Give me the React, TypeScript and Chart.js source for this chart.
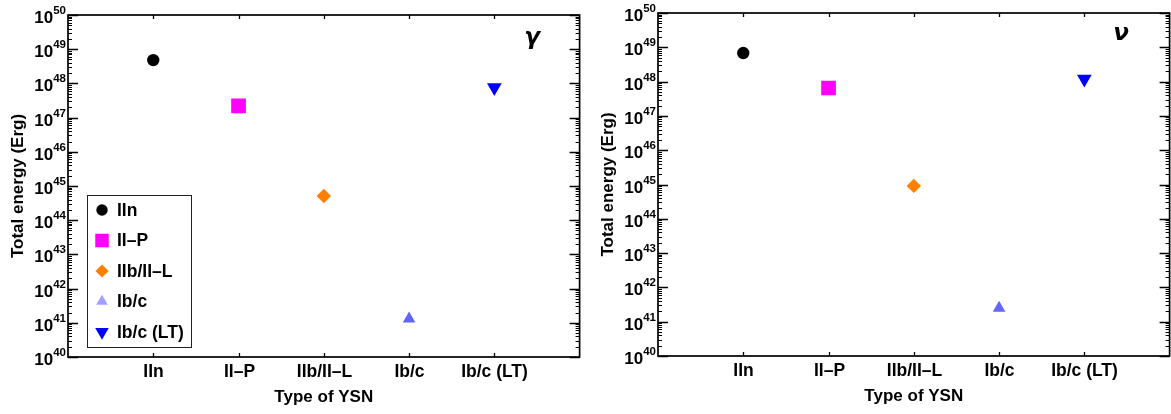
import { useEffect, useRef } from 'react';
import { Chart, registerables } from 'chart.js';
import { drawPoint } from 'chart.js/helpers';

Chart.register(...registerables);

// Supernova classes along the x axis
const categories = ['IIn', 'II–P', 'IIb/II–L', 'Ib/c', 'Ib/c (LT)'];
// Total emitted energy (erg) per class
const gammaEnergy = [4.8e48, 2.2e47, 5.1e44, 1.3e41, 7.6e47];
const neutrinoEnergy = [6.8e48, 6.5e47, 9.1e44, 2.5e41, 1.2e48];
// Decade exponents labelled on the log axis
const decadeExponents = [40, 41, 42, 43, 44, 45, 46, 47, 48, 49, 50];

// Marker styling per class
const markerColors = ['#000000', '#ff00ff', '#ff8000', '#6464ff', '#0000ff'];
const legendMarkerColors = ['#000000', '#ff00ff', '#ff8000', '#a0a0ff', '#0000ff'];
const markerStyles = ['circle', 'rect', 'rectRot', 'triangle', 'triangle'];
const markerRotations = [0, 0, 0, 0, 180];
const markerRadii = [6.2, 10.4, 7.2, 7.3, 8.5];

const FONT = "'Liberation Sans', Arial, Helvetica, sans-serif";

type PanelOpts = {
  symbol: string;
  symbolX: number;
  symbolY: number;
  showLegend: boolean;
};

const framePlugin = {
  id: 'panelFrame',
  afterDraw(chart: any, _args: any, opts: PanelOpts) {
    const { ctx, chartArea } = chart;
    const { left, right, top, bottom } = chartArea;
    const xs = chart.scales.x;
    const ys = chart.scales.y;
    ctx.save();
    ctx.strokeStyle = '#000';
    ctx.fillStyle = '#000';

    // axis box
    ctx.lineWidth = 1.7;
    ctx.strokeRect(left, top, right - left, bottom - top);

    // decade ticks and labels
    ctx.lineWidth = 1.3;
    decadeExponents.forEach((e) => {
      const py = Math.round(ys.getPixelForValue(Math.pow(10, e))) + 0.5;
      ctx.beginPath();
      ctx.moveTo(left, py);
      ctx.lineTo(left + 10, py);
      ctx.moveTo(right, py);
      ctx.lineTo(right - 10, py);
      ctx.stroke();

      const sup = String(e);
      ctx.font = `bold 11.5px ${FONT}`;
      const supW = ctx.measureText(sup).width;
      ctx.textAlign = 'left';
      ctx.textBaseline = 'alphabetic';
      const xEnd = left - 2;
      ctx.fillText(sup, xEnd - supW, py - 2);
      ctx.font = `bold 17px ${FONT}`;
      ctx.textAlign = 'right';
      ctx.fillText('10', xEnd - supW, py + 7);
    });

    // minor log ticks
    ctx.lineWidth = 1;
    for (let e = decadeExponents[0]; e < decadeExponents[decadeExponents.length - 1]; e++) {
      for (let m = 2; m <= 9; m++) {
        const py = Math.round(ys.getPixelForValue(m * Math.pow(10, e))) + 0.5;
        ctx.beginPath();
        ctx.moveTo(left, py);
        ctx.lineTo(left + 4, py);
        ctx.moveTo(right, py);
        ctx.lineTo(right - 4, py);
        ctx.stroke();
      }
    }

    // category ticks and labels
    ctx.lineWidth = 1.3;
    ctx.font = `bold 17.5px ${FONT}`;
    ctx.textAlign = 'center';
    ctx.textBaseline = 'alphabetic';
    categories.forEach((c, i) => {
      const px = Math.round(xs.getPixelForValue(i + 1)) + 0.5;
      ctx.beginPath();
      ctx.moveTo(px, top);
      ctx.lineTo(px, top + 4);
      ctx.moveTo(px, bottom);
      ctx.lineTo(px, bottom - 4);
      ctx.stroke();
      ctx.fillText(c, px, bottom + 20);
    });

    // axis titles
    ctx.font = `bold 17px ${FONT}`;
    ctx.fillText('Type of YSN', (left + right) / 2, bottom + 45);
    ctx.save();
    ctx.translate(23, (top + bottom) / 2);
    ctx.rotate(-Math.PI / 2);
    ctx.fillText('Total energy (Erg)', 0, 0);
    ctx.restore();

    // panel symbol
    ctx.font = `italic bold 23px 'DejaVu Sans', ${FONT}`;
    ctx.fillText(opts.symbol, left + opts.symbolX, top + opts.symbolY);

    // legend box
    if (opts.showLegend) {
      const bx = left + 19;
      const by = top + 180;
      const bw = 104;
      const bh = 152;
      ctx.fillStyle = '#fff';
      ctx.fillRect(bx, by, bw, bh);
      ctx.lineWidth = 1;
      ctx.strokeStyle = '#222';
      ctx.strokeRect(bx + 0.5, by + 0.5, bw, bh);
      categories.forEach((c, i) => {
        const cy = by + 15 + i * 30.5;
        ctx.fillStyle = legendMarkerColors[i];
        drawPoint(
          ctx,
          {
            pointStyle: markerStyles[i],
            radius: markerRadii[i] * 0.92,
            rotation: markerRotations[i],
            borderWidth: 0,
          } as any,
          bx + 15,
          cy
        );
        ctx.fillStyle = '#000';
        ctx.font = `bold 17.5px ${FONT}`;
        ctx.textAlign = 'left';
        ctx.textBaseline = 'middle';
        ctx.fillText(c, bx + 30, cy + 1);
      });
    }
    ctx.restore();
  },
};

function Panel({
  values,
  padding,
  panel,
}: {
  values: number[];
  padding: { left: number; right: number; top: number; bottom: number };
  panel: PanelOpts;
}) {
  const ref = useRef<HTMLCanvasElement | null>(null);
  useEffect(() => {
    if (!ref.current) return;
    const chart = new Chart(ref.current, {
      type: 'scatter',
      data: {
        datasets: categories.map((c, i) => ({
          label: c,
          data: [{ x: i + 1, y: values[i] }],
          backgroundColor: markerColors[i],
          borderColor: markerColors[i],
          pointStyle: markerStyles[i] as any,
          pointRotation: markerRotations[i],
          pointRadius: markerRadii[i],
          pointBorderWidth: 0,
          pointHoverRadius: markerRadii[i],
        })),
      },
      options: {
        animation: false,
        responsive: false,
        events: [],
        layout: { padding },
        plugins: {
          legend: { display: false },
          tooltip: { enabled: false },
          panelFrame: panel,
        } as any,
        scales: {
          x: { type: 'linear', min: 0, max: 6, display: false },
          y: { type: 'logarithmic', min: 1e40, max: 1e50, display: false },
        },
      },
      plugins: [framePlugin],
    });
    return () => chart.destroy();
  }, []);
  return <canvas ref={ref} width={590} height={414} style={{ display: 'block' }} />;
}

export default function App() {
  return (
    <div
      style={{
        position: 'absolute',
        left: 0,
        top: 0,
        width: 1171,
        height: 414,
        overflow: 'hidden',
        background: '#fff',
      }}
    >
      <div style={{ position: 'absolute', left: 0, top: 0 }}>
        <Panel
          values={gammaEnergy}
          padding={{ left: 68, right: 7, top: 15, bottom: 57 }}
          panel={{ symbol: 'γ', symbolX: 464, symbolY: 29, showLegend: true }}
        />
      </div>
      <div style={{ position: 'absolute', left: 590, top: 0 }}>
        <Panel
          values={neutrinoEnergy}
          padding={{ left: 68, right: 8, top: 13, bottom: 58 }}
          panel={{ symbol: 'ν', symbolX: 463, symbolY: 27, showLegend: false }}
        />
      </div>
    </div>
  );
}
